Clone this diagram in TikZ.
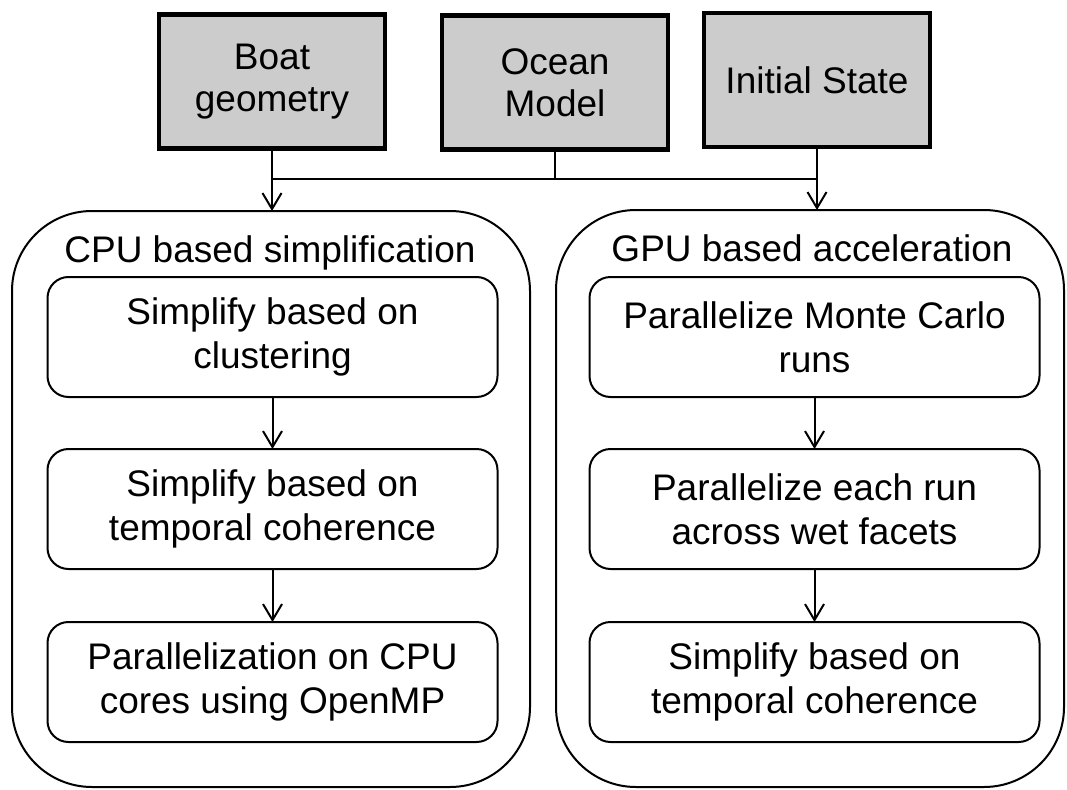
\documentclass[tikz,border=0pt]{standalone}
\usepackage{fontspec}
\setmainfont{Liberation Sans}
\usetikzlibrary{arrows.meta}
\begin{document}
\begin{tikzpicture}[x=1pt,y=-1pt,
  every node/.style={font=\fontsize{37}{44}\selectfont, align=center, inner sep=0pt, outer sep=0pt},
  srcbox/.style={draw, line width=4.5pt, fill=black!20, minimum width=226pt, minimum height=134pt},
  group/.style={draw, line width=2pt, rounded corners=80pt},
  stepbox/.style={draw, line width=2pt, rounded corners=21pt, minimum width=450pt, minimum height=120pt},
  arr/.style={line width=2pt, -{Straight Barb[length=16pt,width=19pt,line width=2pt]}},
  conn/.style={line width=2pt}]
\useasboundingbox (0,0) rectangle (1067,789);

% source boxes
\node[srcbox, font=\fontsize{37}{42}\selectfont] (boat) at (272,81.5) {Boat\\geometry};
\node[srcbox, font=\fontsize{37}{42}\selectfont] (ocean) at (555,82.5) {Ocean\\Model};
\node[srcbox] (init) at (817,80) {Initial State};

% group containers
\node[group, minimum width=518pt, minimum height=576pt] (cpu) at (271,499) {};
\node[group, minimum width=508pt, minimum height=577pt] (gpu) at (810,498.5) {};
\node[anchor=base] (cput) at (270,262) {CPU based simplification};
\node[anchor=base] (gput) at (812,261) {GPU based acceleration};

% CPU steps
\node[stepbox] (c1) at (272.5,337) {Simplify based on\\clustering};
\node[stepbox] (c2) at (272.5,509) {Simplify based on\\temporal coherence};
\node[stepbox] (c3) at (272.5,682) {Parallelization on CPU\\cores using OpenMP};

% GPU steps
\node[stepbox] (g1) at (814.5,337) {Parallelize Monte Carlo\\runs};
\node[stepbox] (g2) at (814.5,509) {Parallelize each run\\across wet facets};
\node[stepbox] (g3) at (814.5,682) {Simplify based on\\temporal coherence};

% connectors
\coordinate (j) at (555,179);
\draw[conn] (boat.south |- j) -- (init.south |- j);
\draw[conn] (ocean.south) -- (ocean.south |- j);
\draw[arr] (boat.south) -- (boat.south |- cpu.north);
\draw[arr] (init.south) -- (init.south |- gpu.north);

\draw[arr] (c1) -- (c2);
\draw[arr] (c2) -- (c3);
\draw[arr] (g1) -- (g2);
\draw[arr] (g2) -- (g3);
\end{tikzpicture}
\end{document}
